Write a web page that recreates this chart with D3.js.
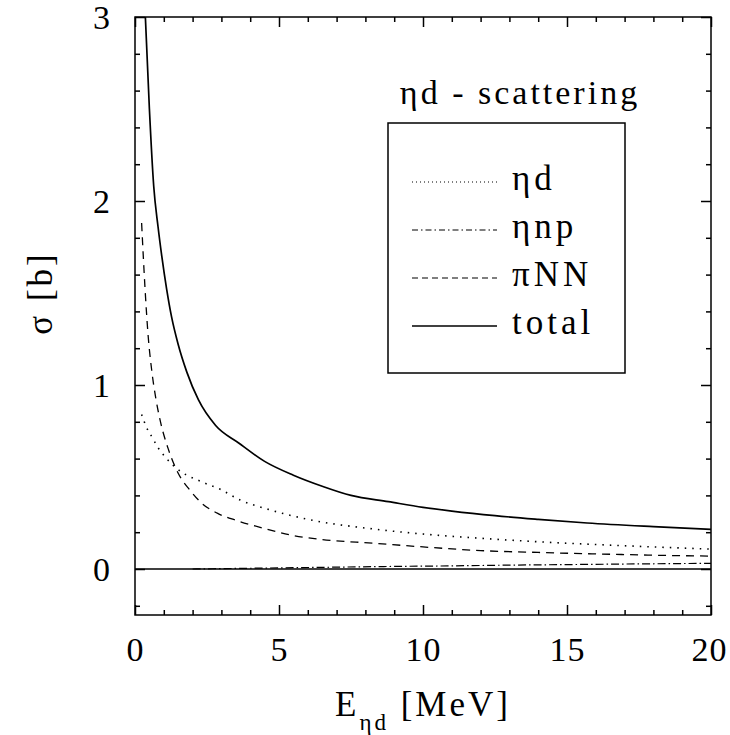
<!DOCTYPE html>
<html>
<head>
<meta charset="utf-8">
<script src="https://cdn.jsdelivr.net/npm/d3@7"></script>
<style>
  body { margin: 0; background: #fff; }
  svg text { font-family: "Liberation Serif", "Times New Roman", Times, "DejaVu Serif", serif !important; fill: #000; }
</style>
</head>
<body>
<svg id="svgContainer" width="730" height="735"></svg>
<script>
// values, energy in MeV, cross section in b
const totalE = [0.25, 0.36, 0.5, 0.65, 0.8, 0.93, 1.1, 1.27, 1.5, 1.8, 2.2, 2.8, 3.6, 4.5, 5.5, 6.5, 7.5, 8.8, 10, 11, 12.5, 14, 15.7, 18, 20];
const totalS = [3.45, 3.0, 2.5, 2.08, 1.86, 1.70, 1.52, 1.37, 1.22, 1.07, 0.92, 0.78, 0.685, 0.585, 0.51, 0.45, 0.40, 0.366, 0.335, 0.315, 0.29, 0.27, 0.25, 0.23, 0.215];

const etadE = [0.23, 0.4, 0.58, 0.8, 1.04, 1.5, 2.3, 3.0, 3.65, 4.5, 6, 8.3, 10, 12, 14, 16, 18, 20];
const etadS = [0.84, 0.77, 0.72, 0.66, 0.61, 0.54, 0.475, 0.43, 0.375, 0.33, 0.27, 0.217, 0.19, 0.167, 0.148, 0.133, 0.12, 0.108];

const etanpE = [2, 3, 4, 5, 7, 9, 11, 13, 15, 17, 20];
const etanpS = [0, 0.002, 0.004, 0.006, 0.01, 0.014, 0.017, 0.021, 0.024, 0.027, 0.031];

const piNNE = [0.23, 0.35, 0.45, 0.58, 0.72, 0.87, 1.16, 1.5, 1.9, 2.3, 2.9, 3.5, 4.5, 5.4, 6.5, 8.3, 10, 12, 14, 16, 18, 20];
const piNNS = [1.88, 1.52, 1.28, 1.08, 0.93, 0.81, 0.65, 0.52, 0.43, 0.36, 0.30, 0.265, 0.22, 0.185, 0.16, 0.14, 0.12, 0.10, 0.09, 0.082, 0.075, 0.07];

const xTicks = [0, 5, 10, 15, 20];
const yTicks = [0, 1, 2, 3];
const legendLabels = ['ηd', 'ηnp', 'πNN', 'total'];

const serif = '"Liberation Serif", "Times New Roman", Times, "DejaVu Serif", serif';
const margin = {left: 135, right: 19, top: 17, bottom: 120};
const width = 730, height = 735;

const svg = d3.select('#svgContainer').attr('font-family', serif);

const xScale = d3.scaleLinear().domain([0, 20]).range([margin.left, width - margin.right]);
const yScale = d3.scaleLinear().domain([-0.25, 3]).range([height - margin.bottom, margin.top]);

const x0 = xScale.range()[0], x1 = xScale.range()[1];
const y0 = yScale.range()[0], y1 = yScale.range()[1];

svg.append('clipPath').attr('id', 'plotClip')
    .append('rect')
    .attr('x', x0).attr('y', y1)
    .attr('width', x1 - x0).attr('height', y0 - y1);

// ticks on all four sides, pointing inward
const minorX = d3.range(0, 21, 1).filter(d => d % 5 != 0);
const minorY = d3.range(-0.2, 3, 0.2).map(d => +d.toFixed(1)).filter(d => Math.abs(d - Math.round(d)) > 0.01);

const bottomAxis = d3.axisBottom(xScale).tickValues(xTicks).tickSize(-10).tickPadding(22).tickFormat(d3.format('d'));
const topAxis = d3.axisTop(xScale).tickValues(xTicks).tickSize(-10).tickFormat('');
const leftAxis = d3.axisLeft(yScale).tickValues(yTicks).tickSize(-10).tickPadding(24).tickFormat(d3.format('d'));
const rightAxis = d3.axisRight(yScale).tickValues(yTicks).tickSize(-10).tickFormat('');

const styleAxis = sel => {
    sel.attr('font-family', serif);
    sel.select('.domain').remove();
    sel.selectAll('.tick line').attr('stroke', '#000').attr('stroke-width', 1.5);
    sel.selectAll('.tick text').style('font-size', '34px').style('letter-spacing', '1px');
};

svg.append('g').attr('class', 'x-axis').attr('transform', `translate(0, ${y0})`).call(bottomAxis).call(styleAxis);
svg.append('g').attr('transform', `translate(0, ${y1})`).call(topAxis).call(styleAxis);
svg.append('g').attr('class', 'y-axis').attr('transform', `translate(${x0}, 0)`).call(leftAxis).call(styleAxis);
svg.append('g').attr('transform', `translate(${x1}, 0)`).call(rightAxis).call(styleAxis);

svg.select('.y-axis').selectAll('.tick text').attr('dy', '0.35em');
// keep the last label inside the page
svg.select('.x-axis').selectAll('.tick text').filter(d => d == 20).attr('dx', -2);

svg.append('g').attr('transform', `translate(0, ${y0})`)
    .call(d3.axisBottom(xScale).tickValues(minorX).tickSize(-5).tickFormat('')).call(styleAxis);
svg.append('g').attr('transform', `translate(0, ${y1})`)
    .call(d3.axisTop(xScale).tickValues(minorX).tickSize(-5).tickFormat('')).call(styleAxis);
svg.append('g').attr('transform', `translate(${x0}, 0)`)
    .call(d3.axisLeft(yScale).tickValues(minorY).tickSize(-5).tickFormat('')).call(styleAxis);
svg.append('g').attr('transform', `translate(${x1}, 0)`)
    .call(d3.axisRight(yScale).tickValues(minorY).tickSize(-5).tickFormat('')).call(styleAxis);

// frame
svg.append('rect')
    .attr('x', x0).attr('y', y1)
    .attr('width', x1 - x0).attr('height', y0 - y1)
    .attr('fill', 'none').attr('stroke', '#000').attr('stroke-width', 1.5);

// zero line
svg.append('line')
    .attr('x1', x0).attr('x2', x1)
    .attr('y1', yScale(0)).attr('y2', yScale(0))
    .attr('stroke', '#000').attr('stroke-width', 1.5);

const line = d3.line()
    .x(d => xScale(d[0]))
    .y(d => yScale(d[1]))
    .curve(d3.curveMonotoneX);

const series = [
    {e: etadE, s: etadS, dash: '1.5,6', w: 1.6},
    {e: etanpE, s: etanpS, dash: '8,3,1.5,3', w: 1.2},
    {e: piNNE, s: piNNS, dash: '8,6', w: 1.3},
    {e: totalE, s: totalS, dash: null, w: 1.7}
];

const g = svg.append('g').attr('clip-path', 'url(#plotClip)');
g.selectAll('path')
    .data(series)
    .enter()
    .append('path')
    .attr('d', d => line(d.e.map((v, i) => [v, d.s[i]])))
    .attr('fill', 'none')
    .attr('stroke', '#000')
    .attr('stroke-width', d => d.w)
    .attr('stroke-dasharray', d => d.dash);

// legend
const legendDash = ['1,3', '6,3,1.5,3', '6,4', null];
const legend = svg.append('g');
legend.append('text')
    .attr('x', 520).attr('y', 104)
    .attr('text-anchor', 'middle')
    .style('font-size', '34px').style('letter-spacing', '3px')
    .text('ηd - scattering');
legend.append('rect')
    .attr('x', 388).attr('y', 123)
    .attr('width', 237).attr('height', 250)
    .attr('fill', 'none').attr('stroke', '#000').attr('stroke-width', 1.5);
legendLabels.forEach((lab, i) => {
    let yy = 190 + i * 48;
    legend.append('line')
        .attr('x1', 412).attr('x2', 497)
        .attr('y1', yy - 8).attr('y2', yy - 8)
        .attr('stroke', '#000').attr('stroke-width', i == 3 ? 1.7 : 1.2)
        .attr('stroke-dasharray', legendDash[i]);
    legend.append('text')
        .attr('x', 512).attr('y', yy)
        .style('font-size', '35px').style('letter-spacing', '4px')
        .text(lab);
});

// axis titles
const xLabel = svg.append('text')
    .attr('x', (x0 + x1) / 2).attr('y', 716)
    .attr('text-anchor', 'middle')
    .style('font-size', '35px').style('letter-spacing', '3px');
xLabel.append('tspan').text('E');
xLabel.append('tspan').attr('dy', 14).style('font-size', '23px').text('ηd');
xLabel.append('tspan').attr('dy', -14).text(' [MeV]');

svg.append('text')
    .attr('transform', `translate(40, ${yScale(1.5)}) rotate(-90)`)
    .attr('text-anchor', 'middle')
    .attr('dy', '0.35em')
    .style('font-size', '35px').style('letter-spacing', '3px')
    .text('σ [b]');
</script>
</body>
</html>
